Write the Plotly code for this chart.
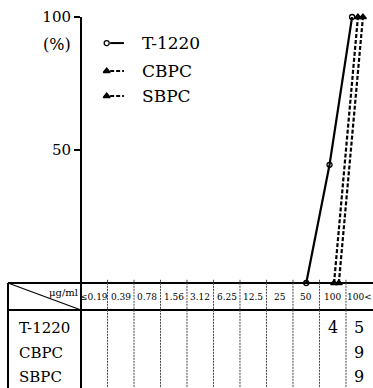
import plotly.graph_objects as go

# Concentration classes (µg/ml) and number of strains per class
columns = ["≤0.19", "0.39", "0.78", "1.56", "3.12", "6.25", "12.5", "25", "50", "100", "100<"]
drugs = ["T-1220", "CBPC", "SBPC"]
t1220_counts = [0, 0, 0, 0, 0, 0, 0, 0, 0, 4, 5]
cbpc_counts = [0, 0, 0, 0, 0, 0, 0, 0, 0, 0, 9]
sbpc_counts = [0, 0, 0, 0, 0, 0, 0, 0, 0, 0, 9]
y_ticks = [50, 100]

counts_by_drug = [t1220_counts, cbpc_counts, sbpc_counts]

FONT = "DejaVu Serif"
W, H = 373, 388
Y_MIN, Y_MAX = -39.47, 100
X_MIN, X_MAX = -3.557, 10.52
AXIS_X = -0.5                 # left edge of first concentration column
LABEL_LEFT = -3.255           # left border of table
HEADER_BOTTOM = -10.15
HEADER_MID = -5.3
ROW_Y = [-16.9, -26.3, -35.3]

# slight horizontal separation of overlapping curves (at 0 % and at 100 %)
x_shift = {"T-1220": (0.0, -0.27), "CBPC": (0.05, -0.05), "SBPC": (0.23, 0.14)}
styles = {
    "T-1220": dict(dash="solid", symbol="circle-open", msize=5),
    "CBPC": dict(dash="4px,2px", symbol="triangle-up", msize=6),
    "SBPC": dict(dash="4px,2px", symbol="triangle-up", msize=6),
}


def cumulative_curve(counts):
    total = sum(counts)
    first = next(i for i, c in enumerate(counts) if c > 0)
    xs, ys, run = [], [], 0
    start = max(first - 1, 0)
    for i in range(start, len(counts)):
        run += counts[i]
        xs.append(i)
        ys.append(100.0 * run / total)
    return xs, ys


fig = go.Figure()

for name, counts in zip(drugs, counts_by_drug):
    xs, ys = cumulative_curve(counts)
    lo, hi = x_shift[name]
    xd = [x + lo + (hi - lo) * y / 100.0 for x, y in zip(xs, ys)]
    st = styles[name]
    fig.add_trace(go.Scatter(
        x=xd, y=ys, mode="lines+markers", showlegend=False,
        line=dict(color="black", width=2.2, dash=st["dash"]),
        marker=dict(symbol=st["symbol"], size=st["msize"], color="black",
                    line=dict(color="black", width=1.3)),
        cliponaxis=False,
    ))

# key in the upper left of the plot
key_mark_x, key_x0, key_x1, key_text_x = 0.47, 0.6, 1.12, 1.72
key_y = [90.2, 79.7, 70.3]
for name, ky in zip(drugs, key_y):
    st = styles[name]
    fig.add_trace(go.Scatter(
        x=[key_x0, key_x1], y=[ky, ky], mode="lines", showlegend=False,
        line=dict(color="black", width=2, dash=st["dash"]),
    ))
    fig.add_trace(go.Scatter(
        x=[key_mark_x], y=[ky], mode="markers", showlegend=False,
        marker=dict(symbol=st["symbol"], size=st["msize"], color="black",
                    line=dict(color="black", width=1.3)),
    ))
    fig.add_annotation(x=key_text_x, y=ky, text=name, showarrow=False,
                       xanchor="left", yanchor="middle",
                       font=dict(family=FONT, size=17, color="black"))

shapes = []
# table frame
shapes.append(dict(type="line", x0=LABEL_LEFT, x1=X_MAX, y0=0, y1=0,
                   line=dict(color="black", width=2)))
shapes.append(dict(type="line", x0=LABEL_LEFT, x1=X_MAX, y0=HEADER_BOTTOM, y1=HEADER_BOTTOM,
                   line=dict(color="black", width=2)))
shapes.append(dict(type="line", x0=LABEL_LEFT, x1=LABEL_LEFT, y0=0, y1=Y_MIN,
                   line=dict(color="black", width=2)))
shapes.append(dict(type="line", x0=LABEL_LEFT, x1=AXIS_X, y0=0, y1=HEADER_BOTTOM,
                   line=dict(color="black", width=1.2)))
# column separators
for i in range(1, len(columns)):
    shapes.append(dict(type="line", x0=i - 0.5, x1=i - 0.5, y0=1.2, y1=Y_MIN,
                       line=dict(color="#444", width=1, dash="2px,1px")))
fig.update_layout(shapes=shapes)

# header labels
fig.add_annotation(x=AXIS_X - 0.05, y=-3.5, text="μg/ml", showarrow=False,
                   xanchor="right", yanchor="middle",
                   font=dict(family=FONT, size=10, color="black"))
for i, lab in enumerate(columns):
    fig.add_annotation(x=i, y=HEADER_MID, text=lab, showarrow=False,
                       xanchor="center", yanchor="middle",
                       font=dict(family=FONT, size=9, color="black"))

# row labels and counts
for name, counts, ry in zip(drugs, counts_by_drug, ROW_Y):
    fig.add_annotation(x=LABEL_LEFT + 0.33, y=ry, text=name, showarrow=False,
                       xanchor="left", yanchor="middle",
                       font=dict(family=FONT, size=15, color="black"))
    for i, c in enumerate(counts):
        if c:
            fig.add_annotation(x=i, y=ry, text=str(c), showarrow=False,
                               xanchor="center", yanchor="middle",
                               font=dict(family=FONT, size=16, color="black"))

# percent unit label
fig.add_annotation(x=AXIS_X - 0.32, y=89.8, text="(%)", showarrow=False,
                   xanchor="right", yanchor="middle",
                   font=dict(family=FONT, size=16, color="black"))

fig.update_layout(
    width=W, height=H,
    margin=dict(l=0, r=0, t=0, b=0, autoexpand=False),
    paper_bgcolor="white", plot_bgcolor="white",
    xaxis=dict(range=[X_MIN, X_MAX], domain=[0, 1], visible=False, fixedrange=True,
               automargin=False),
    yaxis=dict(range=[Y_MIN, Y_MAX], domain=[0, 1 - 17 / H], anchor="free",
               position=(AXIS_X - X_MIN) / (X_MAX - X_MIN), automargin=False,
               tickvals=y_ticks, ticks="outside", ticklen=6, tickwidth=2,
               tickcolor="black", showline=True, linecolor="black", linewidth=2,
               showgrid=False, zeroline=False,
               tickfont=dict(family=FONT, size=15, color="black")),
    showlegend=False,
)

fig.write_html("out.html")
